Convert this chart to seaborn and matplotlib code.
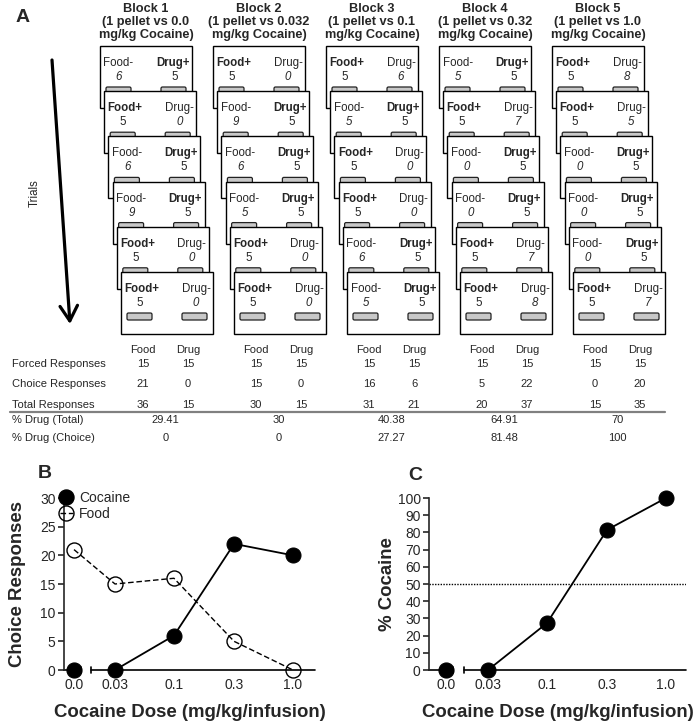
import numpy as np
import pandas as pd
import matplotlib
matplotlib.use("Agg")
import matplotlib.pyplot as plt
import seaborn as sns
from matplotlib.patches import Rectangle, FancyBboxPatch
from matplotlib.lines import Line2D
import matplotlib.transforms as mtransforms

sns.set_style("ticks")
plt.rcParams["font.family"] = ["Liberation Sans", "DejaVu Sans"]

# ---------------- data ----------------
block_names = ["Block 1", "Block 2", "Block 3", "Block 4", "Block 5"]
block_doses = ["0.0", "0.032", "0.1", "0.32", "1.0"]

# 1 = Food lever is the active (+) one on that trial, 0 = Drug lever is active
food_plus = [
    [0, 1, 0, 0, 1, 1],
    [1, 0, 0, 0, 1, 1],
    [1, 0, 1, 1, 0, 0],
    [0, 1, 0, 0, 1, 1],
    [1, 1, 0, 0, 0, 1],
]
food_counts = [
    [6, 5, 6, 9, 5, 5],
    [5, 9, 6, 5, 5, 5],
    [5, 5, 5, 5, 6, 5],
    [5, 5, 0, 0, 5, 5],
    [5, 5, 0, 0, 0, 5],
]
drug_counts = [
    [5, 0, 5, 5, 0, 0],
    [0, 5, 5, 5, 0, 0],
    [6, 5, 0, 0, 5, 5],
    [5, 7, 5, 5, 7, 8],
    [8, 5, 5, 5, 5, 7],
]

row_labels = ["Forced Responses", "Choice Responses", "Total Responses"]
forced_food = [15, 15, 15, 15, 15]
forced_drug = [15, 15, 15, 15, 15]
choice_food = [21, 15, 16, 5, 0]
choice_drug = [0, 0, 6, 22, 20]
total_food = [36, 30, 31, 20, 15]
total_drug = [15, 15, 21, 37, 35]
pct_drug_total = ["29.41", "30", "40.38", "64.91", "70"]
pct_drug_choice = ["0", "0", "27.27", "81.48", "100"]

dose_labels = ["0.0", "0.03", "0.1", "0.3", "1.0"]
dose_values = [0.0, 0.032, 0.1, 0.32, 1.0]
cocaine_choice = [0, 0, 6, 22, 20]
food_choice = [21, 15, 16, 5, 0]
pct_cocaine = [0, 0, 27.27, 81.48, 100]

# ---------------- figure ----------------
W, H = 700, 728
fig = plt.figure(figsize=(W / 100, H / 100), dpi=100)
axA = fig.add_axes([0, 0, 1, 1])
axA.set_xlim(0, W)
axA.set_ylim(H, 0)
axA.axis("off")

FS_CARD = 8.3
axA.text(23, 17, "A", fontsize=14, fontweight="bold", ha="center", va="center")

# Trials arrow
axA.annotate("", xy=(70, 324), xytext=(52, 60),
             arrowprops=dict(arrowstyle="->,head_length=0.6,head_width=0.35",
                             lw=2.3, color="black", mutation_scale=18,
                             shrinkA=0, shrinkB=0))
axA.text(35, 193, "Trials", rotation=90, fontsize=8.3, ha="center", va="center")

card_w, card_h = 92, 62
block_dx = 113
step_x, step_y = 4.2, 45.2
x0_card, y0_card = 100, 46

for b in range(len(block_names)):
    bl = x0_card + block_dx * b
    axA.text(bl + 46, 22, f"{block_names[b]}\n(1 pellet vs {block_doses[b]}\nmg/kg Cocaine)",
             fontsize=9.2, fontweight="bold", ha="center", va="center",
             linespacing=1.15)
    for t in range(6):
        L = bl + step_x * t
        T = y0_card + step_y * t
        z = 10 + t * 5
        axA.add_patch(Rectangle((L, T), card_w, card_h, facecolor="white",
                                edgecolor="black", lw=1.0, zorder=z))
        for lx in (6, 61):
            axA.add_patch(FancyBboxPatch((L + lx, T + 41), 25, 7,
                                         boxstyle="round,pad=0,rounding_size=1.5",
                                         facecolor="#c8c8c8", edgecolor="#222222",
                                         lw=0.9, zorder=z + 1))
        fp = food_plus[b][t] == 1
        axA.text(L + 3.5, T + 17, "Food+" if fp else "Food-", fontsize=FS_CARD,
                 fontweight="bold" if fp else "normal", ha="left", va="center", zorder=z + 2)
        axA.text(L + 19, T + 31, str(food_counts[b][t]), fontsize=FS_CARD,
                 style="normal" if fp else "italic", ha="center", va="center", zorder=z + 2)
        axA.text(L + card_w - 2.5, T + 17, "Drug-" if fp else "Drug+", fontsize=FS_CARD,
                 fontweight="normal" if fp else "bold", ha="right", va="center", zorder=z + 2)
        axA.text(L + 75, T + 31, str(drug_counts[b][t]), fontsize=FS_CARD,
                 style="italic" if fp else "normal", ha="center", va="center", zorder=z + 2)

# table
FS_T = 8
rows_y = [364, 384, 405]
for lab, y in zip(row_labels, rows_y):
    axA.text(12, y, lab, fontsize=FS_T, ha="left", va="center")
axA.text(12, 420, "% Drug (Total)", fontsize=FS_T, ha="left", va="center")
axA.text(12, 438, "% Drug (Choice)", fontsize=FS_T, ha="left", va="center")
table_vals = [(forced_food, forced_drug), (choice_food, choice_drug), (total_food, total_drug)]
for b in range(5):
    fx = x0_card + block_dx * b + 43
    dx = fx + 45
    axA.text(fx, 350, "Food", fontsize=FS_T, ha="center", va="center")
    axA.text(dx, 350, "Drug", fontsize=FS_T, ha="center", va="center")
    for (fv, dv), y in zip(table_vals, rows_y):
        axA.text(fx, y, str(fv[b]), fontsize=FS_T, ha="center", va="center")
        axA.text(dx, y, str(dv[b]), fontsize=FS_T, ha="center", va="center")
    axA.text((fx + dx) / 2, 420, pct_drug_total[b], fontsize=FS_T, ha="center", va="center")
    axA.text((fx + dx) / 2, 438, pct_drug_choice[b], fontsize=FS_T, ha="center", va="center")
axA.plot([10, 665], [411.5, 411.5], color="#808080", lw=1.6)

# ---------------- panels B and C ----------------
PX_DEC = 119.0  # pixels per decade of dose


def px_axes(l, r, top, bottom):
    return fig.add_axes([l / W, 1 - bottom / H, (r - l) / W, (bottom - top) / H])


def dose_positions(gap_px):
    pos = [np.log10(d) if d > 0 else np.nan for d in dose_values]
    first = pos[1]
    pos[0] = first - gap_px / PX_DEC
    return np.array(pos)


def style_axes(ax, xpos, left_px, right_px, ymax, ystep, xlabel, ylabel, ylab_x):
    ax.set_xlim(xpos[0] - left_px / PX_DEC, xpos[-1] + right_px / PX_DEC)
    ax.set_ylim(0, ymax)
    ax.set_yticks(np.arange(0, ymax + 1, ystep))
    ax.set_xticks(xpos)
    ax.set_xticklabels(dose_labels)
    for s in ("top", "right", "bottom"):
        ax.spines[s].set_visible(False)
    ax.spines["left"].set_linewidth(1.2)
    ax.tick_params(axis="y", direction="out", length=4, width=1.2, labelsize=10, pad=2)
    ax.tick_params(axis="x", length=0, pad=6, labelsize=10)
    ax.set_xlabel(xlabel, fontsize=13.4, fontweight="bold", va="center")
    ax.set_ylabel(ylabel, fontsize=13.4, fontweight="bold", va="center")
    ax.xaxis.set_label_coords(0.5, -0.245)
    ax.yaxis.set_label_coords(ylab_x, 0.5)
    # broken x axis
    trans = ax.get_xaxis_transform()
    xl = ax.get_xlim()
    s1 = (xl[0], xpos[0] + 7 / PX_DEC)
    s2 = (xpos[1] - 24 / PX_DEC, xl[1])
    tk = 3.0 / (ax.get_position().height * H)
    ax.plot(s1, [0, 0], transform=trans, color="black", lw=1.2, clip_on=False)
    ax.plot(s2, [0, 0], transform=trans, color="black", lw=1.2, clip_on=False)
    ax.plot([s1[1], s1[1]], [-tk, tk], transform=trans, color="black", lw=1.2, clip_on=False)
    ax.plot([s2[0], s2[0]], [-tk, tk], transform=trans, color="black", lw=1.2, clip_on=False)


MS = 10.8
# Panel B
xB = dose_positions(41)
axB = px_axes(64, 315, 498, 670)
sns.lineplot(x=xB, y=food_choice, ax=axB, color="black", lw=1.0, linestyle=(0, (4, 2)),
             marker="o", markersize=MS, markerfacecolor="none", markeredgecolor="black",
             markeredgewidth=1.0, clip_on=False, zorder=3)
sns.lineplot(x=xB[1:], y=cocaine_choice[1:], ax=axB, color="black", lw=1.3,
             marker="o", markersize=MS, markerfacecolor="black", markeredgecolor="black",
             clip_on=False, zorder=4)
sns.scatterplot(x=xB[:1], y=cocaine_choice[:1], ax=axB, color="black", s=MS ** 2,
                edgecolor="black", clip_on=False, zorder=4)
style_axes(axB, xB, 10, 22, 30, 5, "Cocaine Dose (mg/kg/infusion)", "Choice Responses",
           (18 - 64) / 251)
handles = [Line2D([], [], color="black", marker="o", ms=MS, lw=1.3),
           Line2D([], [], color="black", marker="o", ms=MS, mfc="none", mec="black",
                  lw=1.0, ls=(0, (4, 2)))]
axB.legend(handles, ["Cocaine", "Food"], loc="upper left",
           bbox_to_anchor=(60 / W, 1 - 491 / H), bbox_transform=fig.transFigure,
           frameon=False, handlelength=0.9, handletextpad=0.45, borderpad=0,
           borderaxespad=0, labelspacing=0.12, fontsize=10)
fig.text(45 / W, 1 - 474 / H, "B", fontsize=14, fontweight="bold", ha="center", va="center")

# Panel C
xC = dose_positions(42)
axC = px_axes(429, 686, 498, 670)
axC.axhline(50, color="black", lw=1.0, ls=(0, (1, 1)))
sns.lineplot(x=xC[1:], y=pct_cocaine[1:], ax=axC, color="black", lw=1.3,
             marker="o", markersize=MS, markerfacecolor="black", markeredgecolor="black",
             clip_on=False, zorder=4)
sns.scatterplot(x=xC[:1], y=pct_cocaine[:1], ax=axC, color="black", s=MS ** 2,
                edgecolor="black", clip_on=False, zorder=4)
style_axes(axC, xC, 17, 20, 100, 10, "Cocaine Dose (mg/kg/infusion)", "% Cocaine",
           (387 - 429) / 257)
fig.text(415 / W, 1 - 475 / H, "C", fontsize=14, fontweight="bold", ha="center", va="center")

fig.savefig("out.png", dpi=100)
